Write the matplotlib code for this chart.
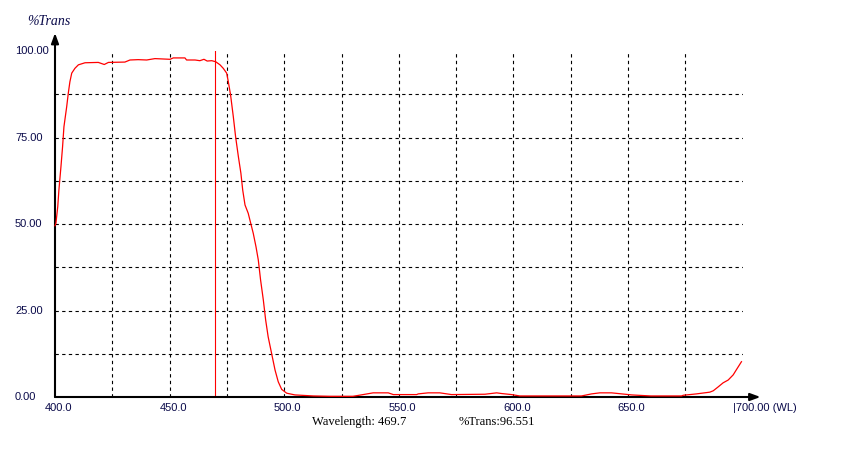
import matplotlib
matplotlib.use("Agg")
import matplotlib.pyplot as plt
from matplotlib.transforms import blended_transform_factory


# Spectrum (wavelength in nm, %T)
wavelength = [
    400.0, 400.4, 401.2, 401.7, 402.6, 403.3, 403.9, 405.1, 405.8, 406.5,
    407.3, 408.7, 410.2, 413.1, 418.9, 421.5, 423.3, 430.5, 432.7, 436.3,
    440.0, 443.6, 450.2, 451.6, 456.7, 457.4, 461.1, 463.2, 465.0, 466.4,
    468.4, 470.1, 472.0, 473.4, 474.9, 475.6, 476.6, 477.8, 478.8, 480.0,
    481.1, 481.9, 482.9, 484.3, 485.4, 486.5, 487.7, 488.7, 489.7, 490.9,
    491.9, 493.0, 494.5, 496.0, 497.4, 498.9, 501.1, 504.7, 512.7, 520.0,
    530.0, 536.2, 538.8, 545.4, 547.6, 557.8, 558.5, 562.8, 567.9, 573.0,
    587.6, 592.7, 594.9, 599.2, 602.8, 629.7, 634.1, 637.7, 642.8, 647.2,
    651.6, 660.0, 673.4, 674.1, 679.9, 685.7, 687.2, 689.3, 691.5, 693.7,
    695.9, 697.4, 699.5,
]
transmission = [
    49.5, 50.2, 55.0, 59.8, 66.6, 72.3, 78.1, 83.9, 87.8, 91.1,
    93.6, 95.0, 96.0, 96.6, 96.7, 96.1, 96.7, 96.8, 97.4, 97.5,
    97.4, 97.8, 97.6, 98.0, 98.0, 97.4, 97.4, 97.2, 97.6, 97.1,
    97.2, 96.9, 96.0, 95.0, 93.6, 91.2, 87.3, 81.0, 75.2, 69.5,
    64.7, 59.8, 55.5, 53.1, 50.2, 47.3, 43.4, 39.6, 33.8, 28.0,
    22.3, 17.4, 12.6, 7.8, 4.4, 2.2, 1.1, 0.6, 0.3, 0.2,
    0.2, 0.9, 1.2, 1.2, 0.7, 0.7, 0.9, 1.2, 1.2, 0.7,
    0.8, 1.2, 1.0, 0.7, 0.3, 0.3, 0.9, 1.2, 1.2, 0.9,
    0.6, 0.3, 0.3, 0.5, 0.9, 1.4, 1.8, 2.9, 4.1, 4.9,
    6.4, 8.0, 10.2,
]

x_labels = [400, 450, 500, 550, 600, 650]
y_labels = [0, 25, 50, 75, 100]
x_grid = [425, 450, 475, 500, 525, 550, 575, 600, 625, 650, 675]
y_grid = [12.5, 25, 37.5, 50, 62.5, 75, 87.5]

CURSOR_WL = 469.7
CURSOR_T = 96.551

LABEL_COLOR = "#0a0a4a"


fig = plt.figure(figsize=(8.5, 4.5), dpi=100)
ax = fig.add_axes([55 / 850, 53 / 450, 687.6 / 850, 346 / 450])
ax.set_xlim(400, 700)
ax.set_ylim(0, 100)
for spine in ax.spines.values():
    spine.set_visible(False)
ax.set_xticks([])
ax.set_yticks([])

# dashed grid, as on the instrument screen
for x in x_grid:
    ax.plot([x, x], [0, 100], color="black", linewidth=0.8,
            linestyle=(0, (3, 3)), zorder=1)
for y in y_grid:
    ax.plot([400, 700], [y, y], color="black", linewidth=0.8,
            linestyle=(0, (3, 3)), zorder=1)

# cursor line
ax.plot([CURSOR_WL, CURSOR_WL], [0, 100], color="red", linewidth=0.8, zorder=2)

ax.plot(wavelength, transmission, color="red", linewidth=0.9, zorder=4,
        clip_on=False)

# axes with arrows
ax.annotate("", xy=(1.026, 0), xytext=(0, 0), xycoords="axes fraction",
            arrowprops=dict(arrowstyle="-|>,head_length=0.6,head_width=0.22",
                            color="black", lw=1.5, shrinkA=0, shrinkB=0),
            zorder=3)
ax.annotate("", xy=(0, 1.052), xytext=(0, 0), xycoords="axes fraction",
            arrowprops=dict(arrowstyle="-|>,head_length=0.6,head_width=0.22",
                            color="black", lw=1.5, shrinkA=0, shrinkB=0),
            zorder=3)

for wl in x_labels:
    ax.text(wl + 1.5, -1.6, f"{wl:.1f}", ha="center", va="top",
            fontsize=8, family="Liberation Sans", color=LABEL_COLOR)
ax.text(700 - 4, -1.6, "|700.00 (WL)", ha="left", va="top",
        fontsize=8, family="Liberation Sans", color=LABEL_COLOR)

left_edge = blended_transform_factory(fig.transFigure, ax.transData)
for t in y_labels:
    ax.text(15 / 850, t, f"{t:.2f}", ha="left", va="center",
            fontsize=8, family="Liberation Sans", color=LABEL_COLOR,
            transform=left_edge)

fig.text(27 / 850, 1 - 21.7 / 450, "%Trans", ha="left", va="center",
         fontsize=10, family="Liberation Serif", style="italic",
         color=LABEL_COLOR)

ax.text(512.0, -7.3, f"Wavelength: {CURSOR_WL}", ha="left", va="center",
        fontsize=9, family="Liberation Serif", color="black")
ax.text(575.9, -7.3, f"%Trans:{CURSOR_T}", ha="left", va="center",
        fontsize=9, family="Liberation Serif", color="black")

fig.savefig("out.png", dpi=100, facecolor="white")
